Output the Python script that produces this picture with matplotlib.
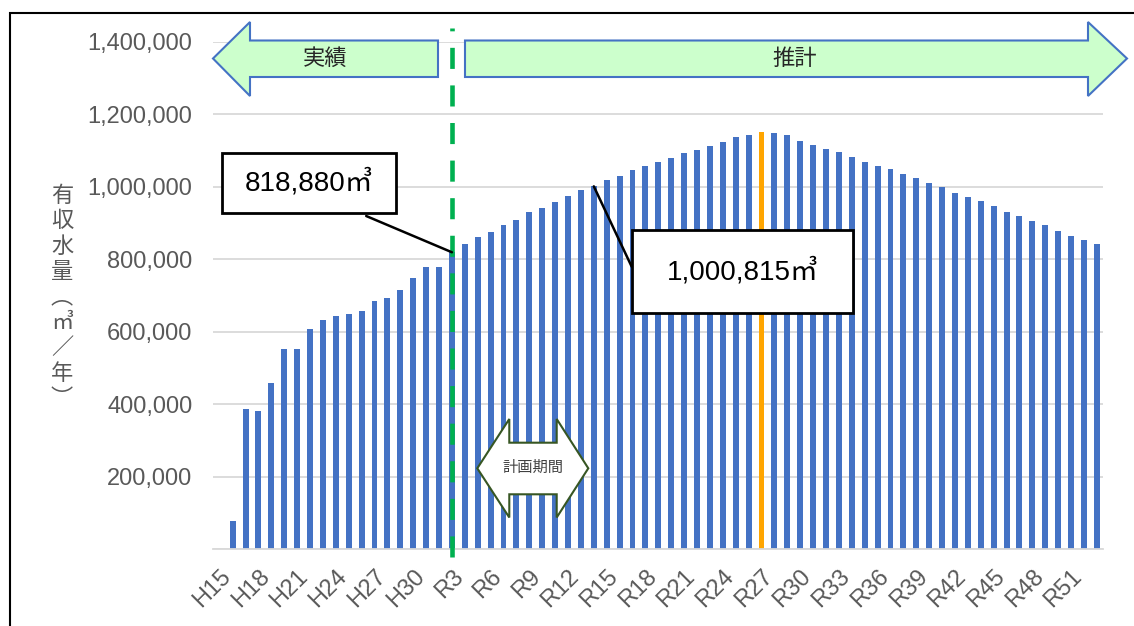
import matplotlib
matplotlib.use('Agg')
import matplotlib.pyplot as plt
from matplotlib.patches import Polygon, Rectangle
from matplotlib.transforms import ScaledTranslation
import numpy as np

plt.rcParams['font.family'] = ['Liberation Sans', 'Noto Sans CJK JP']

# 年度 (H15 ~ H30, R1 ~ R53)
nendo = ['H%d' % i for i in range(15, 31)] + ['R%d' % i for i in range(1, 54)]

# 実績 H15 ~ R3
jisseki = [np.nan, 77000, 386000, 382000, 459000, 552000, 553000, 606000,
           631000, 644000, 648000, 658000, 685000, 694000, 715000, 747000,
           778000, 778000, 818880]

# 推計 R4 ~ R53
suikei = [841000, 862000, 876000, 893000, 909000, 929000, 942000, 957000,
          974000, 991000, 1000815, 1017000, 1029000, 1045000, 1056000, 1067000,
          1079000, 1094000, 1101000, 1112000, 1123000, 1136000, 1143000, 1150000,
          1148000, 1142000, 1126000, 1116000, 1104000, 1096000, 1081000, 1069000,
          1058000, 1050000, 1034000, 1023000, 1010000, 1000000, 983000, 971000,
          959000, 947000, 931000, 918000, 904000, 893000, 877000, 864000,
          852000, 842000]

yushu = np.array(jisseki + suikei, dtype=float)

peak_year = 'R27'
kijun_year = 'R3'
callout_years = ['R3', 'R14']

W, H = 1134, 626


def px(x, y):
    return (x / W, 1 - y / H)


fig = plt.figure(figsize=(W / 100, H / 100), dpi=100)
ax = fig.add_axes([213.3 / W, 1 - 549 / H, 890 / W, 507.3 / H])

x = np.arange(len(nendo))
colors = ['#FFA500' if n == peak_year else '#4472C4' for n in nendo]
ax.bar(x, yushu, width=0.46, color=colors, zorder=2)

ax.set_xlim(-0.5, len(nendo) - 0.5)
ax.set_ylim(0, 1400000)
ax.set_yticks(np.arange(0, 1400001, 200000))
ax.set_yticklabels(['' if v == 0 else f'{v:,}' for v in range(0, 1400001, 200000)],
                   fontsize=17, color='#595959')
ax.set_xticks(x[::3])
ax.set_xticklabels(nendo[::3], rotation=45, ha='right', va='top',
                   rotation_mode='anchor', fontsize=17, color='#595959')
shift = ScaledTranslation(11 / 100, 0, fig.dpi_scale_trans)
for lab in ax.get_xticklabels():
    lab.set_transform(lab.get_transform() + shift)
ax.tick_params(axis='y', length=0, pad=15)
ax.tick_params(axis='x', length=0, pad=12)
ax.yaxis.grid(True, color='#D9D9D9', lw=1.3)
ax.set_axisbelow(True)
for s in ['top', 'right', 'left']:
    ax.spines[s].set_visible(False)
ax.spines['bottom'].set_color('#D9D9D9')
ax.spines['bottom'].set_linewidth(1.3)

# 実績/推計 境界
ax.axvline(nendo.index(kijun_year), ymin=-0.016, ymax=1.027, color='#00B050',
           lw=3.3, linestyle=(0, (4.6, 3.6)), clip_on=False, zorder=3)

# 縦書き軸ラベル
fig.text(62 / W, 1 - 298 / H, '有\n収\n水\n量\n︵\n㎥\n／\n年\n︶', ha='center',
         va='center', fontsize=16, color='#595959', linespacing=1.28)

# 上部の矢印
left_arrow = [(213, 58.5), (250, 22), (250, 40.5), (438, 40.5), (438, 77),
              (250, 77), (250, 96)]
right_arrow = [(465, 40.5), (1088, 40.5), (1088, 22), (1127, 58.5), (1088, 96),
               (1088, 77), (465, 77)]
for pts in [left_arrow, right_arrow]:
    fig.add_artist(Polygon([px(*p) for p in pts], closed=True, facecolor='#CCFFCC',
                           edgecolor='#4472C4', lw=1.5, transform=fig.transFigure))
fig.text(*px(325, 59), '実績', ha='center', va='center', fontsize=16, color='#262626')
fig.text(*px(795, 59), '推計', ha='center', va='center', fontsize=16, color='#262626')

# 計画期間
kikan = [(477.3, 468.3), (509.3, 419), (509.3, 442.7), (556.7, 442.7), (556.7, 419),
         (588.3, 468.3), (556.7, 517.5), (556.7, 494.3), (509.3, 494.3), (509.3, 517.5)]
fig.add_artist(Polygon([px(*p) for p in kikan], closed=True, facecolor='white',
                       edgecolor='#375623', lw=1.5, transform=fig.transFigure, zorder=5))
fig.text(*px(533, 468), '計画期間', ha='center', va='center', fontsize=11,
         color='#404040', zorder=6)

# 吹き出し
boxes = [(0.0094, 0.6617, 0.1959, 0.1195), (0.4701, 0.4658, 0.2490, 0.1630)]
starts = [(0.1718, 0.6564), (0.4701, 0.5565)]
for yr, (bx, by, bw, bh), st in zip(callout_years, boxes, starts):
    i = nendo.index(yr)
    ax.annotate('', xy=(i, yushu[i]), xytext=st, textcoords='axes fraction',
                arrowprops=dict(arrowstyle='-', lw=1.8, color='black',
                                shrinkA=0, shrinkB=0), zorder=6)
    ax.add_patch(Rectangle((bx, by), bw, bh, transform=ax.transAxes, facecolor='white',
                           edgecolor='black', lw=2, zorder=7, clip_on=False))
    ax.text(bx + bw / 2, by + bh / 2, f'{int(yushu[i]):,}㎥', transform=ax.transAxes,
            ha='center', va='center', fontsize=20, zorder=8)

# 外枠
fig.add_artist(Rectangle((10 / W, 1 - 640 / H), 1130 / W, (640 - 12.7) / H,
                         fill=False, edgecolor='black', lw=1.5,
                         transform=fig.transFigure))

fig.savefig('out.png', dpi=100)
